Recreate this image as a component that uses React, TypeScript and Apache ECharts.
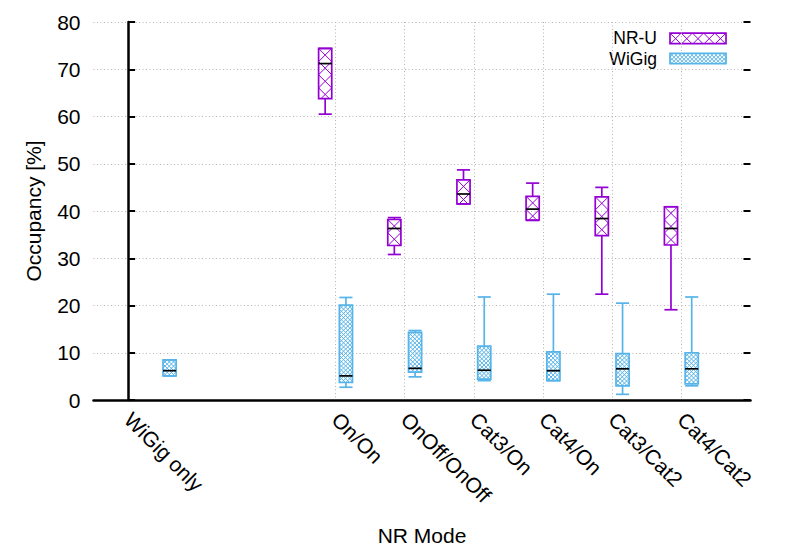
import React, { useEffect, useRef } from 'react';
import * as echarts from 'echarts';

// ---- data ----
const categories = ['WiGig only', 'On/On', 'OnOff/OnOff', 'Cat3/On', 'Cat4/On', 'Cat3/Cat2', 'Cat4/Cat2'];
const tickPositions = [0, 3, 4, 5, 6, 7, 8];
const yTicks = [0, 10, 20, 30, 40, 50, 60, 70, 80];

const nruPositions = [2.85, 3.85, 4.85, 5.85, 6.85, 7.85];
const nruMin = [60.5, 30.8, 41.5, 38.0, 22.4, 19.1];
const nruQ1 = [63.8, 32.7, 41.5, 38.1, 34.8, 32.8];
const nruMedian = [71.2, 36.3, 43.6, 40.4, 38.4, 36.3];
const nruQ3 = [74.4, 38.2, 46.6, 43.1, 43.0, 40.9];
const nruMax = [74.4, 38.6, 48.7, 45.9, 45.0, 40.9];

const wigigPositions = [0.6, 3.15, 4.15, 5.15, 6.15, 7.15, 8.15];
const wigigMin = [5.1, 2.7, 4.9, 4.1, 4.1, 1.2, 3.0];
const wigigQ1 = [5.1, 3.7, 5.9, 4.4, 4.1, 3.0, 3.4];
const wigigMedian = [6.2, 5.1, 6.7, 6.3, 6.2, 6.6, 6.6];
const wigigQ3 = [8.5, 20.1, 14.3, 11.4, 10.2, 9.8, 10.0];
const wigigMax = [8.5, 21.7, 14.7, 21.8, 22.4, 20.5, 21.8];

// ---- style ----
const NRU_COLOR = '#9400D3';
const WIGIG_COLOR = '#56B4E9';
const FONT = '"Liberation Sans", Arial, sans-serif';
const FONT_SIZE = 21;
const LEGEND_FONT_SIZE = 17.5;
const BOX_WIDTH = 0.19;
const LW = 1.7;

type Seg = [number, number, number, number];

function hatch(x0: number, y0: number, x1: number, y1: number, s: number): Seg[] {
  const segs: Seg[] = [];
  if (x1 - x0 <= 0 || y1 - y0 <= 0 || s <= 0) return segs;
  const b1 = x0 - y0;
  const kS = Math.ceil((x0 - y1 - b1) / s);
  const kE = Math.floor((x1 - y0 - b1) / s);
  for (let k = kS; k <= kE; k++) {
    const c = b1 + k * s;
    const ya = Math.max(y0, x0 - c);
    const yb = Math.min(y1, x1 - c);
    if (yb - ya > 0.3) segs.push([ya + c, ya, yb + c, yb]);
  }
  const b2 = x0 + y0;
  const kE2 = Math.floor((x1 + y1 - b2) / s);
  for (let k = 0; k <= kE2; k++) {
    const c = b2 + k * s;
    const ya = Math.max(y0, c - x1);
    const yb = Math.min(y1, c - x0);
    if (yb - ya > 0.3) segs.push([c - ya, ya, c - yb, yb]);
  }
  return segs;
}

function lineEl(x1: number, y1: number, x2: number, y2: number, color: string, lw: number) {
  return {
    type: 'line',
    shape: { x1, y1, x2, y2 },
    style: { stroke: color, lineWidth: lw },
  };
}

function makeRenderItem(color: string, spacingOf: (w: number) => number) {
  return (_params: any, api: any) => {
    const x = api.value(0);
    const pt = (v: number) => api.coord([x, v]);
    const [cx, yMin] = pt(api.value(1));
    const yQ1 = pt(api.value(2))[1];
    const yMed = pt(api.value(3))[1];
    const yQ3 = pt(api.value(4))[1];
    const yMax = pt(api.value(5))[1];
    const w = api.size([BOX_WIDTH, 0])[0];
    const x0 = cx - w / 2;
    const x1 = cx + w / 2;
    const children: any[] = [];
    children.push(lineEl(cx, yQ3, cx, yMax, color, LW));
    children.push(lineEl(cx, yQ1, cx, yMin, color, LW));
    children.push(lineEl(x0, yMax, x1, yMax, color, LW));
    children.push(lineEl(x0, yMin, x1, yMin, color, LW));
    hatch(x0, yQ3, x1, yQ1, spacingOf(w)).forEach((s) =>
      children.push(lineEl(s[0], s[1], s[2], s[3], color, 1))
    );
    children.push({
      type: 'rect',
      shape: { x: x0, y: yQ3, width: w, height: yQ1 - yQ3 },
      style: { fill: 'none', stroke: color, lineWidth: LW },
    });
    children.push(lineEl(x0, yMed, x1, yMed, '#000000', LW));
    return { type: 'group', children };
  };
}

function legendItem(label: string, color: string, y: number, spacing: number) {
  const rx = 670;
  const rw = 56;
  const rh = 10.5;
  const ry = y - rh / 2;
  const els: any[] = [];
  els.push({
    type: 'text',
    x: 657,
    y: y,
    style: {
      text: label,
      font: `${LEGEND_FONT_SIZE}px ${FONT}`,
      fill: '#000',
      lineHeight: 18,
      align: 'right',
      verticalAlign: 'middle',
      textAlign: 'right',
      textVerticalAlign: 'middle',
    },
  });
  hatch(rx, ry, rx + rw, ry + rh, spacing).forEach((s) =>
    els.push({
      type: 'line',
      shape: { x1: s[0], y1: s[1], x2: s[2], y2: s[3] },
      style: { stroke: color, lineWidth: 1 },
    })
  );
  els.push({
    type: 'rect',
    shape: { x: rx, y: ry, width: rw, height: rh },
    style: { fill: 'none', stroke: color, lineWidth: LW },
  });
  return els;
}

export default function App() {
  const ref = useRef<HTMLDivElement>(null);
  useEffect(() => {
    if (!ref.current) return;
    const chart = echarts.init(ref.current, undefined, { renderer: 'svg' });
    const labelFormatter = (v: number) => {
      const i = tickPositions.indexOf(v);
      return i >= 0 ? categories[i] : '';
    };
    const nruData = nruPositions.map((x, i) => [x, nruMin[i], nruQ1[i], nruMedian[i], nruQ3[i], nruMax[i]]);
    const wigigData = wigigPositions.map((x, i) => [x, wigigMin[i], wigigQ1[i], wigigMedian[i], wigigQ3[i], wigigMax[i]]);
    const gridLine = { show: true, lineStyle: { color: '#b4b4b4', type: [1, 2.5], width: 1 } };
    const option: any = {
      animation: false,
      backgroundColor: '#ffffff',
      textStyle: { fontFamily: FONT },
      grid: { left: 93.5, right: 38.5, top: 22, bottom: 152, containLabel: false },
      xAxis: {
        type: 'value',
        min: -0.5,
        max: 9,
        name: 'NR Mode',
        nameLocation: 'middle',
        nameGap: 125,
        nameTextStyle: { fontSize: FONT_SIZE, fontFamily: FONT, color: '#000' },
        axisLine: { show: true, onZero: false, lineStyle: { color: '#000', width: 2.5 } },
        axisTick: { show: false, customValues: tickPositions },
        axisLabel: {
          customValues: tickPositions,
          formatter: labelFormatter,
          rotate: -45,
          margin: 16,
          verticalAlign: 'middle',
          fontSize: FONT_SIZE,
          fontFamily: FONT,
          color: '#000',
        },
        splitLine: gridLine,
      },
      yAxis: [
        {
          type: 'value',
          min: 0,
          max: 80,
          interval: 10,
          name: 'Occupancy [%]',
          nameLocation: 'middle',
          nameGap: 50,
          nameRotate: 90,
          nameTextStyle: { fontSize: FONT_SIZE, fontFamily: FONT, color: '#000' },
          axisLine: { show: true, lineStyle: { color: '#000', width: 2.5 } },
          axisTick: { show: true, inside: true, length: 7, lineStyle: { color: '#000', width: 2 } },
          axisLabel: { margin: 13, fontSize: FONT_SIZE, fontFamily: FONT, color: '#000', customValues: yTicks },
          splitLine: gridLine,
        },
        {
          type: 'value',
          position: 'right',
          min: 0,
          max: 80,
          interval: 10,
          axisLine: { show: false },
          axisTick: { show: true, inside: true, length: 7, lineStyle: { color: '#000', width: 2 } },
          axisLabel: { show: false },
          splitLine: { show: false },
        },
      ],
      series: [
        {
          name: 'NR-U',
          type: 'custom',
          renderItem: makeRenderItem(NRU_COLOR, (w) => w),
          encode: { x: 0, y: [1, 2, 3, 4, 5] },
          data: nruData,
          z: 3,
        },
        {
          name: 'WiGig',
          type: 'custom',
          renderItem: makeRenderItem(WIGIG_COLOR, () => 4.2),
          encode: { x: 0, y: [1, 2, 3, 4, 5] },
          data: wigigData,
          z: 3,
        },
      ],
      graphic: [
        ...legendItem('NR-U', NRU_COLOR, 38.3, 11.2),
        ...legendItem('WiGig', WIGIG_COLOR, 58.5, 4),
      ],
    };
    chart.setOption(option);
    return () => chart.dispose();
  }, []);
  return (
    <div
      ref={ref}
      style={{ position: 'fixed', left: 0, top: 0, width: 789, height: 552, background: '#fff' }}
    />
  );
}
